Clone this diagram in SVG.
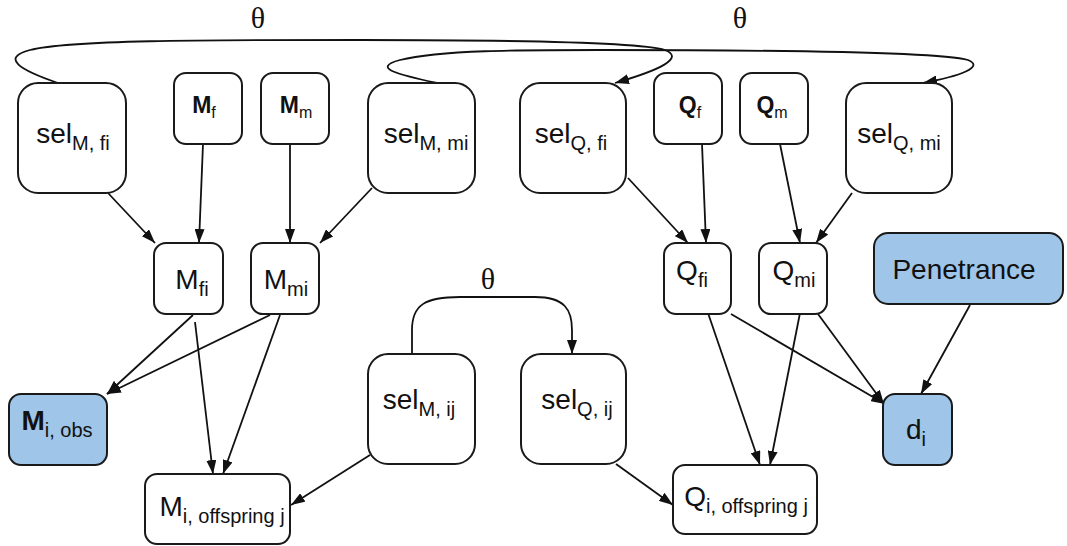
<svg xmlns="http://www.w3.org/2000/svg" width="1067" height="546" viewBox="0 0 1067 546">
  <style>
    .box { fill: #ffffff; stroke: #1a1a1a; stroke-width: 2; }
    .obs { fill: #9fc5e8; stroke: #1a1a1a; stroke-width: 2; }
    .lbl { font-family: "Liberation Sans", Arial, sans-serif; font-size: 28px; fill: #111; text-anchor: middle; }
    .sm { font-size: 23px; }
    .sub { font-size: 20px; }
    .sub2 { font-size: 16px; }
    .b { font-weight: bold; }
    .theta { font-family: "Liberation Serif", "Times New Roman", serif; font-size: 30px; fill: #111; text-anchor: middle; }
    .edge { fill: none; stroke: #111; stroke-width: 1.8; marker-end: url(#arrow); }
  </style>
  <defs>
    <marker id="arrow" viewBox="0 0 14 10" refX="14" refY="5" markerWidth="14" markerHeight="10" markerUnits="userSpaceOnUse" orient="auto">
      <path d="M0,0 L14,5 L0,10 Z" fill="#111"/>
    </marker>
  </defs>

  <rect width="1067" height="546" fill="#ffffff"/>

  <!-- connectors -->
  <g id="connectors">
    <path class="edge" d="M58,83 C20,70 0,58 30,50 C70,40 200,40 360,40 C500,40 640,42 665,50 C685,58 660,70 615,83"/>
    <path class="edge" d="M437,83 C400,75 370,68 400,60 C440,50 520,50 600,50 C750,50 940,52 968,60 C985,67 960,76 923,83"/>
    <path class="edge" d="M412,354 L412,330 C412,305 425,297 460,297 L535,297 C565,297 572,310 572,330 L572,354"/>

    <line class="edge" x1="108" y1="193" x2="155" y2="243"/>
    <line class="edge" x1="203" y1="144" x2="199" y2="243"/>
    <line class="edge" x1="290" y1="144" x2="290" y2="243"/>
    <line class="edge" x1="372" y1="188" x2="320" y2="243"/>
    <line class="edge" x1="193" y1="315" x2="107" y2="394"/>
    <line class="edge" x1="270" y1="315" x2="107" y2="394"/>
    <line class="edge" x1="195" y1="322" x2="213" y2="474"/>
    <line class="edge" x1="280" y1="315" x2="223" y2="474"/>
    <line class="edge" x1="370" y1="455" x2="291" y2="505"/>

    <line class="edge" x1="628" y1="178" x2="688" y2="243"/>
    <line class="edge" x1="702" y1="144" x2="706" y2="243"/>
    <line class="edge" x1="780" y1="144" x2="800" y2="243"/>
    <line class="edge" x1="852" y1="193" x2="816" y2="243"/>
    <line class="edge" x1="708" y1="313" x2="760" y2="465"/>
    <line class="edge" x1="731" y1="314" x2="885" y2="404"/>
    <line class="edge" x1="800" y1="313" x2="770" y2="465"/>
    <line class="edge" x1="818" y1="314" x2="884" y2="404"/>
    <line class="edge" x1="970" y1="305" x2="921" y2="394"/>
    <line class="edge" x1="616" y1="464" x2="673" y2="505"/>
  </g>

  <!-- θ labels -->
  <text class="theta" x="258" y="28">θ</text>
  <text class="theta" x="740" y="28">θ</text>
  <text class="theta" x="488" y="289">θ</text>

  <!-- nodes -->
  <g id="selMfi">
    <rect class="box" x="18" y="83" width="108" height="110" rx="20"/>
    <text class="lbl" x="73" y="143">sel<tspan class="sub" dy="7">M, fi</tspan></text>
  </g>
  <g id="Mf">
    <rect class="box" x="174" y="73" width="68" height="71" rx="12"/>
    <text class="lbl sm" x="204" y="113"><tspan class="b">M</tspan><tspan class="sub2" dy="5">f</tspan></text>
  </g>
  <g id="Mm">
    <rect class="box" x="261" y="73" width="68" height="71" rx="12"/>
    <text class="lbl sm" x="296" y="113"><tspan class="b">M</tspan><tspan class="sub2" dy="5">m</tspan></text>
  </g>
  <g id="selMmi">
    <rect class="box" x="368" y="83" width="107" height="110" rx="20"/>
    <text class="lbl" x="426" y="143">sel<tspan class="sub" dy="7">M, mi</tspan></text>
  </g>
  <g id="selQfi">
    <rect class="box" x="520" y="83" width="106" height="110" rx="20"/>
    <text class="lbl" x="571" y="143">sel<tspan class="sub" dy="7">Q, fi</tspan></text>
  </g>
  <g id="Qf">
    <rect class="box" x="654" y="73" width="68" height="71" rx="12"/>
    <text class="lbl sm" x="690" y="113"><tspan class="b">Q</tspan><tspan class="sub2" dy="5">f</tspan></text>
  </g>
  <g id="Qm">
    <rect class="box" x="740" y="73" width="68" height="71" rx="12"/>
    <text class="lbl sm" x="772" y="113"><tspan class="b">Q</tspan><tspan class="sub2" dy="5">m</tspan></text>
  </g>
  <g id="selQmi">
    <rect class="box" x="846" y="83" width="106" height="110" rx="20"/>
    <text class="lbl" x="899" y="143">sel<tspan class="sub" dy="7">Q, mi</tspan></text>
  </g>

  <g id="Mfi">
    <rect class="box" x="154" y="243" width="69" height="71" rx="12"/>
    <text class="lbl" x="192" y="289">M<tspan class="sub" dy="7">fi</tspan></text>
  </g>
  <g id="Mmi">
    <rect class="box" x="251" y="243" width="68" height="71" rx="12"/>
    <text class="lbl" x="286" y="289">M<tspan class="sub" dy="7">mi</tspan></text>
  </g>
  <g id="Qfi">
    <rect class="box" x="664" y="243" width="67" height="71" rx="12"/>
    <text class="lbl" x="692" y="280">Q<tspan class="sub" dy="7">fi</tspan></text>
  </g>
  <g id="Qmi">
    <rect class="box" x="759" y="243" width="68" height="71" rx="12"/>
    <text class="lbl" x="794" y="280">Q<tspan class="sub" dy="7">mi</tspan></text>
  </g>
  <g id="Penetrance">
    <rect class="obs" x="874" y="233" width="189" height="71" rx="14"/>
    <text class="lbl" x="964" y="279">Penetrance</text>
  </g>

  <g id="Miobs">
    <rect class="obs" x="9" y="394" width="98" height="71" rx="12"/>
    <text class="lbl" x="57" y="430"><tspan class="b">M</tspan><tspan class="sub" dy="7">i, obs</tspan></text>
  </g>
  <g id="selMij">
    <rect class="box" x="368" y="354" width="107" height="110" rx="20"/>
    <text class="lbl" x="419" y="409">sel<tspan class="sub" dy="7">M, ij</tspan></text>
  </g>
  <g id="selQij">
    <rect class="box" x="521" y="354" width="105" height="110" rx="20"/>
    <text class="lbl" x="577" y="409">sel<tspan class="sub" dy="7">Q, ij</tspan></text>
  </g>
  <g id="di">
    <rect class="obs" x="883" y="394" width="69" height="71" rx="12"/>
    <text class="lbl" x="916" y="439">d<tspan class="sub" dy="7">i</tspan></text>
  </g>

  <g id="Moffspring">
    <rect class="box" x="145" y="474" width="145" height="70" rx="12"/>
    <text class="lbl" x="222" y="516">M<tspan class="sub" dy="7">i, offspring j</tspan></text>
  </g>
  <g id="Qoffspring">
    <rect class="box" x="673" y="465" width="144" height="69" rx="12"/>
    <text class="lbl" x="746" y="506">Q<tspan class="sub" dy="7">i, offspring j</tspan></text>
  </g>
</svg>
